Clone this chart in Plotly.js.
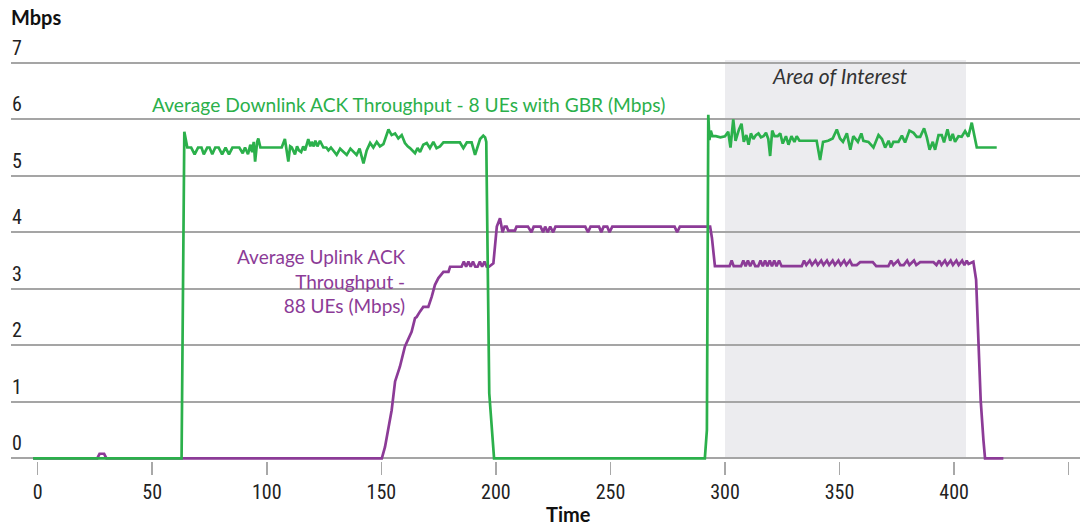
<!DOCTYPE html>
<html>
<head>
<meta charset="utf-8">
<script src="https://cdn.plot.ly/plotly-3.0.1.min.js"></script>
<style>html,body{margin:0;padding:0;background:#fff;}#chart{width:1080px;height:527px;}</style>
</head>
<body>
<div id="chart"></div>
<script>
// Time axis ticks and y ticks
const xTicks = [0, 50, 100, 150, 200, 250, 300, 350, 400, 450];
const yTicks = [0, 1, 2, 3, 4, 5, 6, 7];

// Average Downlink ACK Throughput - 8 UEs with GBR (Mbps)
const downTime = [
  -2, 62.8, 64, 65.3, 67, 68.5, 70, 71.5, 72.5, 74, 75, 76.2, 77.5, 79, 80.5, 82, 83.5, 85, 88, 89.5,
  90.5, 91.8, 92.8, 93.6, 94.3, 94.9, 95.8, 96.3, 97.2, 106.5, 107.9, 108.7, 109.4, 110.2, 110.9, 112.3,
  113.2, 114, 115, 115.9, 116.7, 118.1, 119, 119.6, 120.5, 121.2, 122.1, 123.2, 124.7, 126, 126.9, 128,
  130.5, 132, 134.9, 136.5, 139.2, 140.5, 142.2, 143.6, 145.1, 146.5, 148, 149.4, 150.9, 153.1, 154.5,
  156, 157.4, 158.9, 160.3, 161.5, 162.5, 164.7, 165.8, 166.9, 168.3, 169.8, 171.2, 172.7, 174.1, 175.6,
  177.1, 184.3, 185.8, 187.3, 189.4, 190.9, 193.1, 194.5, 195.3, 195.8, 197.1, 199.2,
  291.2, 292.1, 292.7, 293.2, 293.8, 294.5, 296, 298, 300, 301.4, 302.4, 303.6, 304.6, 306.1, 307.2,
  308.2, 309.3, 310.3, 311.3, 312.4, 313.5, 314.6, 315.7, 316.8, 317.9, 318.9, 319.7, 320.6, 321.6,
  323, 324.1, 325.2, 326.6, 327.7, 329, 330.3, 331.3, 332.5, 340, 341.5, 342.8, 345, 347, 348.8, 350.2,
  351.5, 353.2, 354.7, 356, 358, 359.5, 360.4, 362.6, 364.8, 367, 368.5, 369.9, 371.4, 372.4, 373.5,
  375.7, 377.2, 378.6, 380.5, 382.3, 383.7, 385.2, 386.9, 388.1, 389.3, 390.7, 391.7, 393.2, 394.6,
  395.6, 397.1, 398.3, 399.4, 400.4, 401.9, 403.3, 404.8, 406.2, 407.7, 409.9, 418.6
];
const downMbps = [
  0, 0, 5.78, 5.5, 5.5, 5.38, 5.5, 5.5, 5.38, 5.5, 5.5, 5.38, 5.5, 5.5, 5.38, 5.5, 5.38, 5.5, 5.5, 5.4,
  5.5, 5.38, 5.55, 5.42, 5.6, 5.25, 5.6, 5.66, 5.5, 5.5, 5.65, 5.45, 5.25, 5.52, 5.5, 5.38,
  5.52, 5.45, 5.42, 5.52, 5.45, 5.65, 5.52, 5.6, 5.52, 5.62, 5.52, 5.62, 5.5, 5.5, 5.45, 5.5,
  5.37, 5.48, 5.37, 5.48, 5.37, 5.48, 5.22, 5.45, 5.58, 5.5, 5.6, 5.52, 5.56, 5.82, 5.72,
  5.75, 5.66, 5.72, 5.58, 5.52, 5.49, 5.4, 5.49, 5.42, 5.55, 5.58, 5.49, 5.6, 5.49, 5.52,
  5.59, 5.59, 5.49, 5.59, 5.59, 5.37, 5.65, 5.71, 5.68, 5.6, 1.15, 0,
  0, 0.5, 6.08, 5.63, 5.8, 5.7, 5.7, 5.68, 5.7, 5.78, 5.5, 6.0, 5.62, 5.82, 5.92,
  5.6, 5.72, 5.55, 5.75, 5.65, 5.72, 5.75, 5.68, 5.7, 5.76, 5.65, 5.35, 5.8, 5.7,
  5.7, 5.75, 5.57, 5.7, 5.55, 5.7, 5.6, 5.7, 5.62, 5.62, 5.28, 5.6, 5.62, 5.66, 5.82, 5.66,
  5.6, 5.75, 5.46, 5.7, 5.6, 5.75, 5.62, 5.6, 5.5, 5.72, 5.65, 5.5, 5.62, 5.5, 5.6,
  5.6, 5.71, 5.59, 5.8, 5.76, 5.69, 5.69, 5.84, 5.68, 5.46, 5.6, 5.46, 5.72, 5.72,
  5.59, 5.82, 5.62, 5.74, 5.6, 5.7, 5.69, 5.79, 5.69, 5.94, 5.5, 5.5
];

// Average Uplink ACK Throughput - 88 UEs (Mbps)
const upTime = [
  -2, 26, 27, 29, 30, 150.2, 151.6, 153, 154.5, 156, 158.1, 160.3, 161.8, 163.2, 164.7, 165.4, 166.9,
  168.3, 170.5, 172, 173.4, 174.9, 177.1, 179.3, 180, 185, 186, 187, 188, 189, 190, 191, 192, 193, 194,
  195, 196, 197, 198.9, 200.4, 201.8, 202.9, 203.8, 204.7, 205.4, 208.3, 209, 214, 215.5, 216.5, 219.5,
  220.6, 221.5, 222.6, 223.7, 225, 226, 239, 240.2, 241.3, 245, 246, 247, 248.6, 249.6, 250.8, 278,
  279.1, 280.3, 293.5, 294.3, 295.2, 295.6, 302, 302.9, 303.8, 307, 308, 309, 310, 311, 312.2, 313.2,
  314.5, 315.5, 316.5, 317.5, 318.5, 319.5, 320.5, 321.5, 322.5, 323.6, 324.7, 333.5, 334.5, 335.5,
  337, 338, 339.5, 340.5, 342, 343, 344.5, 345.5, 347, 348, 349.5, 350.5, 352, 353, 354.5, 355.5,
  357.5, 359, 364.5, 366, 371.3, 372.5, 373.5, 375.5, 376.5, 378, 379.5, 380.5, 382.5, 383.5, 385.2,
  391, 392.3, 393.5, 394.5, 396, 397, 398.5, 399.5, 401, 402, 403.5, 404.5, 405.5, 406.3, 408.4,
  409.6, 410.6, 411.6, 412.8, 413.5, 421.5
];
const upMbps = [
  0, 0, 0.08, 0.08, 0, 0, 0.2, 0.5, 0.85, 1.36, 1.62, 1.98, 2.1, 2.24, 2.48, 2.5, 2.6,
  2.68, 2.68, 2.86, 3.07, 3.19, 3.3, 3.3, 3.39, 3.39, 3.48, 3.39, 3.48, 3.39, 3.48, 3.39, 3.39, 3.48, 3.39,
  3.48, 3.39, 3.39, 3.45, 4.1, 4.25, 4.0, 4.1, 4.1, 4.03, 4.03, 4.1, 4.1, 4.0, 4.1, 4.1,
  4.0, 4.1, 4.0, 4.1, 4.0, 4.1, 4.1, 4.0, 4.1, 4.1, 4.0, 4.1, 4.1, 4.0, 4.1, 4.1,
  4.0, 4.1, 4.1, 3.9, 3.45, 3.4, 3.4, 3.5, 3.4, 3.4, 3.5, 3.4, 3.5, 3.4, 3.5, 3.4,
  3.4, 3.5, 3.4, 3.5, 3.4, 3.5, 3.4, 3.5, 3.4, 3.5, 3.4, 3.4, 3.5, 3.42,
  3.5, 3.42, 3.5, 3.42, 3.5, 3.42, 3.5, 3.42, 3.5, 3.42, 3.5, 3.42, 3.5, 3.42, 3.5, 3.42,
  3.42, 3.47, 3.47, 3.4, 3.4, 3.5, 3.42, 3.5, 3.42, 3.42, 3.5, 3.42, 3.5, 3.42, 3.47,
  3.47, 3.42, 3.5, 3.42, 3.5, 3.42, 3.5, 3.42, 3.5, 3.42, 3.5, 3.42, 3.5, 3.44, 3.48,
  3.16, 1.92, 1.03, 0.32, 0, 0
];

// Area of interest (time span)
const interestStart = 300;
const interestEnd = 405.2;

const GREEN = '#2bb04b';
const PURPLE = '#8c3b97';
const LABEL_FONT = 'Lato, "Open Sans", sans-serif';
const TICK_FONT = '"Liberation Sans Narrow", "Roboto Condensed", Roboto, sans-serif';

const traces = [
  {x: upTime, y: upMbps, type: 'scatter', mode: 'lines', name: 'Uplink',
   line: {color: PURPLE, width: 2.7}, hoverinfo: 'skip'},
  {x: downTime, y: downMbps, type: 'scatter', mode: 'lines', name: 'Downlink',
   line: {color: GREEN, width: 2.7}, hoverinfo: 'skip'}
];

const layout = {
  width: 1080, height: 527,
  margin: {l: 11, r: 0, t: 30, b: 66, pad: 0},
  paper_bgcolor: '#ffffff', plot_bgcolor: '#ffffff',
  showlegend: false,
  title: {text: '<b>Mbps</b>', xref: 'container', yref: 'container', x: 11/1080, xanchor: 'left',
          y: 1 - 18/527, yanchor: 'middle', font: {family: LABEL_FONT, size: 20, color: '#111'}},
  xaxis: {
    range: [-11.65, 454.95], tickvals: xTicks, ticktext: xTicks.map(String),
    ticks: 'outside', ticklen: 13, tickwidth: 1.6, tickcolor: '#a8a8a8',
    showgrid: false, zeroline: false, showline: false, fixedrange: true,
    tickfont: {family: TICK_FONT, size: 20, color: '#222'}
  },
  yaxis: {
    range: [-0.048, 7.58], tickvals: yTicks, ticktext: yTicks.map(String),
    ticks: '', showgrid: true, gridcolor: '#a5a5a5', gridwidth: 1.6,
    zeroline: false, showline: false, fixedrange: true,
    ticklabelposition: 'inside', ticklabelshift: -15, ticklabelstandoff: -2,
    tickfont: {family: TICK_FONT, size: 20, color: '#222'}
  },
  shapes: [
    {type: 'rect', xref: 'x', yref: 'y', x0: interestStart, x1: interestEnd, y0: 0, y1: 7.05,
     fillcolor: '#ececef', line: {width: 0}, layer: 'below'}
  ],
  annotations: [
    {text: 'Average Downlink ACK Throughput - 8 UEs with GBR (Mbps)', xref: 'x', yref: 'y',
     x: 161.7, y: 6.27, xanchor: 'center', yanchor: 'middle', showarrow: false,
     font: {family: LABEL_FONT, size: 19.2, color: GREEN}},
    {text: 'Average Uplink ACK<br>Throughput -<br>88 UEs (Mbps)', xref: 'x', yref: 'y',
     x: 161.6, y: 3.14, xanchor: 'right', yanchor: 'middle', align: 'right', showarrow: false,
     font: {family: LABEL_FONT, size: 19, color: PURPLE}},
    {text: '<i>Area of Interest</i>', xref: 'x', yref: 'y', x: 350.2, y: 6.77,
     xanchor: 'center', yanchor: 'middle', showarrow: false,
     font: {family: LABEL_FONT, size: 21, color: '#333'}},
    {text: '<b>Time</b>', xref: 'paper', yref: 'paper', x: (568 - 11) / 1069, y: -(514 - 461) / 431,
     xanchor: 'center', yanchor: 'middle', showarrow: false,
     font: {family: LABEL_FONT, size: 20, color: '#111'}}
  ]
};

Plotly.newPlot('chart', traces, layout, {displayModeBar: false, staticPlot: true});
</script>
</body>
</html>
